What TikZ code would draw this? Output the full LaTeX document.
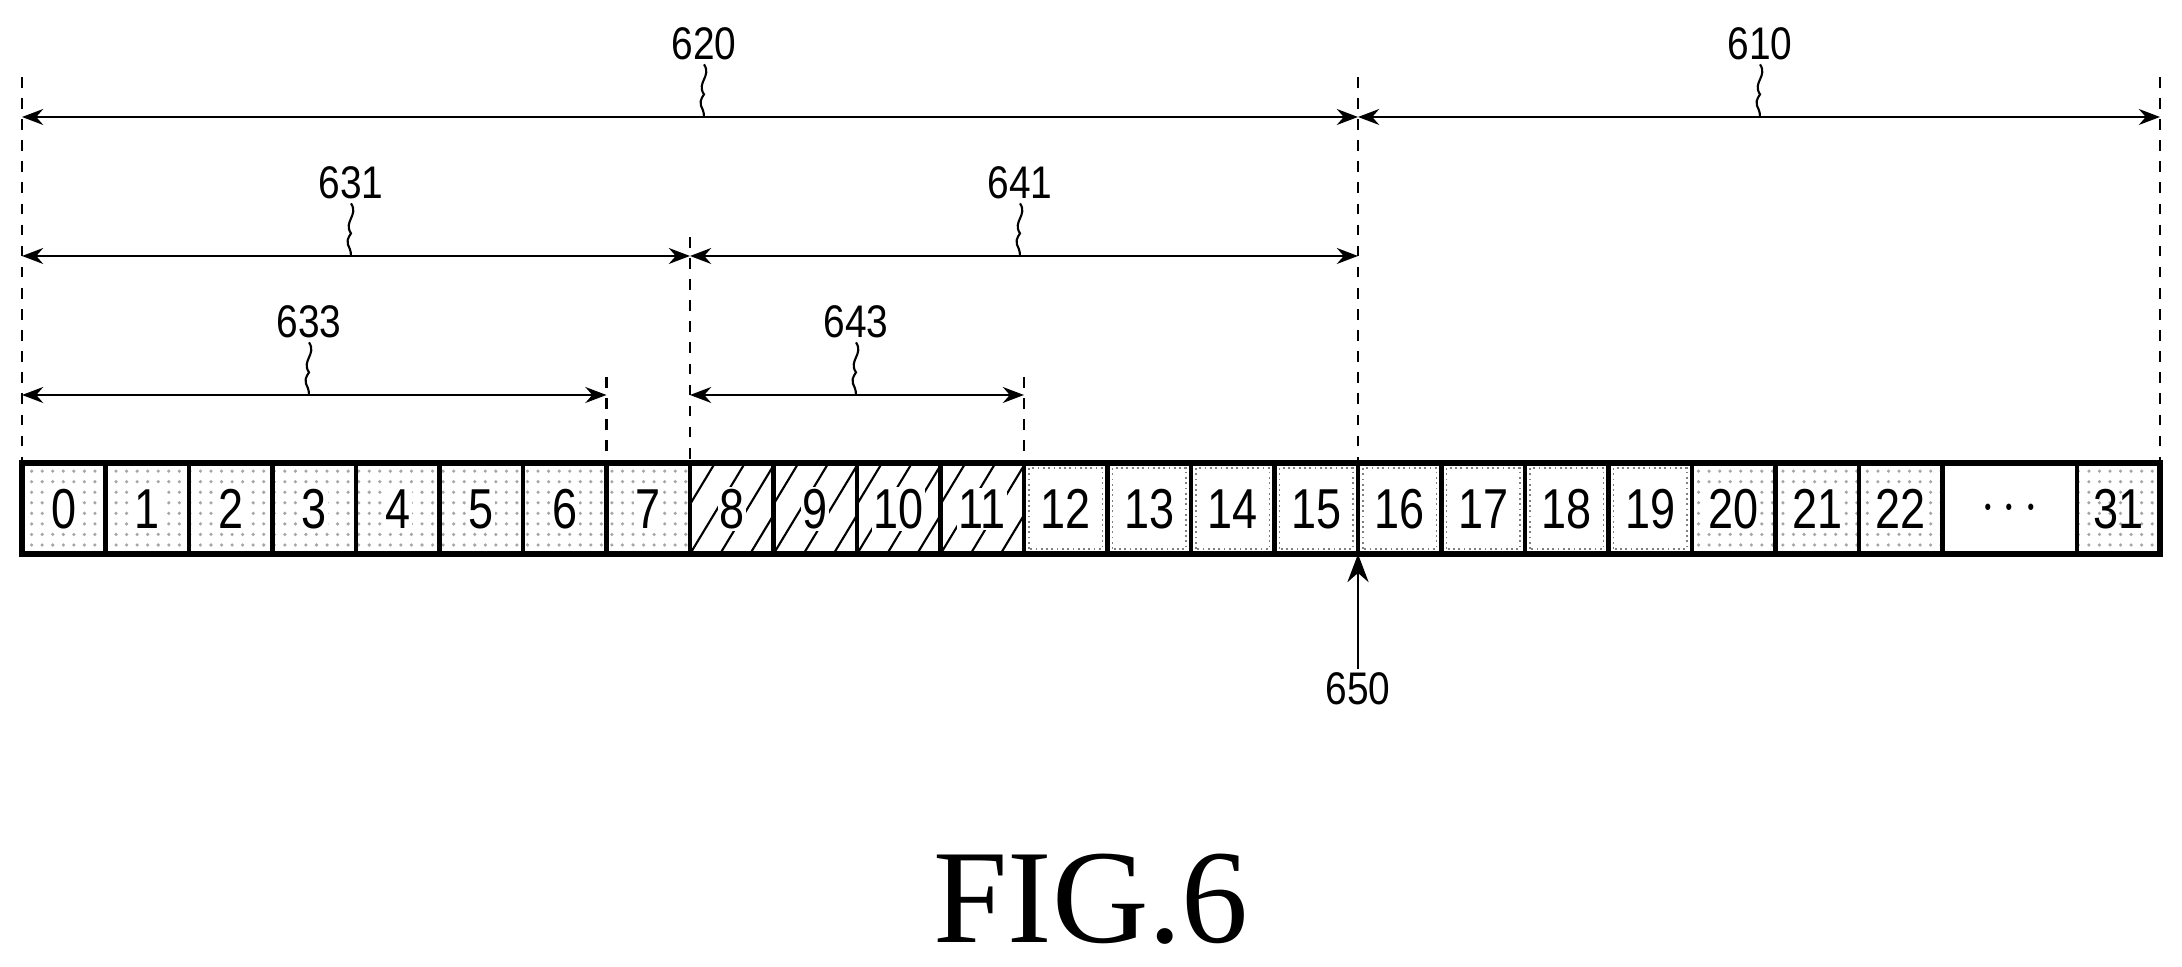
\documentclass[tikz,border=0pt]{standalone}
\usepackage{fontspec}
\setmainfont{Liberation Serif}
\setsansfont{Liberation Sans}
\usetikzlibrary{patterns,arrows.meta,calc}
\def\cw{83.5}
\def\rtop{504}
\def\rbot{413}
\begin{document}
\begin{tikzpicture}[x=0.01cm,y=0.01cm,
  cell/.style={draw,line width=1.2pt},
  dotcell/.style={cell,pattern=dots,pattern color=gray!70},
  num/.style={font=\sffamily\fontsize{16}{16}\selectfont,xscale=0.8},
  lbl/.style={font=\sffamily\fontsize{13}{13}\selectfont,xscale=0.85,inner sep=1pt},
  dim/.style={{Stealth[length=6pt]}-{Stealth[length=6pt]},line width=0.8pt},
  guide/.style={dashed,line width=0.6pt}]
\useasboundingbox (0,0) rectangle (2182,967);
% cell boundaries
\foreach \i in {0,...,23} {\coordinate (b\i) at (22+\i*\cw,\rbot);}
\coordinate (b24) at (2077,\rbot);
\coordinate (b25) at (2160,\rbot);
% cells
\foreach \i in {0,...,7} {\path[dotcell] (b\i) rectangle ++(\cw,91);}
\foreach \i in {8,...,11} {
  \begin{scope}
    \clip (b\i) rectangle ++(\cw,91);
    \foreach \k in {-60,-30,...,90} {\draw[line width=0.6pt] ($(b\i)+(\k,0)$) -- ++(55,91);}
  \end{scope}
  \path[cell] (b\i) rectangle ++(\cw,91);}
\foreach \i in {12,...,19} {
  \path[cell] (b\i) rectangle ++(\cw,91);
  \draw[densely dotted,gray,line width=0.5pt] ($(b\i)+(5,5)$) rectangle ++(\cw-10,81);}
\foreach \i in {20,21,22} {\path[dotcell] (b\i) rectangle ++(\cw,91);}
\path[cell] (b23) rectangle (2077,\rtop);
\path[dotcell] (b24) rectangle (2160,\rtop);
\draw[line width=1.6pt] (22,\rbot) rectangle (2160,\rtop);
\foreach \i in {0,...,22} {\node[num,fill=white,inner sep=0.5pt] (n\i) at ($(b\i)+(\cw/2,45)$) {\i};}
\node[num] (ndots) at ($(b23)+(67,45)$) {$\cdots$};
\node[num] (n31) at ($(b24)+(41.5,45)$) {31};
% guide lines
\draw[guide] (22,890) -- (22,\rtop);
\draw[guide] (1358,890) -- (1358,\rtop);
\draw[guide] (2160,890) -- (2160,\rtop);
\draw[guide] (690,730) -- (690,\rtop);
\draw[guide] (606.5,590) -- (606.5,\rtop);
\draw[guide] (1024,590) -- (1024,\rtop);
% dimension lines
\coordinate (d620a) at (22,850); \coordinate (d620b) at (1358,850); \coordinate (d610b) at (2160,850);
\coordinate (d631a) at (22,711); \coordinate (d631b) at (690,711); \coordinate (d641b) at (1358,711);
\coordinate (d633a) at (22,572); \coordinate (d633b) at (606.5,572);
\coordinate (d643a) at (690,572); \coordinate (d643b) at (1024,572);
\draw[dim] (d620a) -- (d620b);
\draw[dim] (d620b) -- (d610b);
\draw[dim] (d631a) -- (d631b);
\draw[dim] (d631b) -- (d641b);
\draw[dim] (d633a) -- (d633b);
\draw[dim] (d643a) -- (d643b);
% labels with wavy leaders
\foreach \n/\x/\y in {620/704/850,610/1760/850,631/351/711,641/1020/711,633/309/572,643/856/572} {
  \node[lbl] (l\n) at (\x,\y+73) {\n};
  \draw[line width=0.6pt] (l\n.south) .. controls +(8,-12) and +(-8,12) .. +(0,-30)
     .. controls +(-8,-12) and +(0,12) .. (\x,\y);
}
% arrow 650
\node[lbl] (l650) at (1358,278) {650};
\draw[-{Stealth[length=8pt]},line width=0.8pt] (l650.north) -- (b16);
\node[font=\fontsize{38}{38}\selectfont] (fig) at (1091,68) {FIG.6};
\end{tikzpicture}
\end{document}
